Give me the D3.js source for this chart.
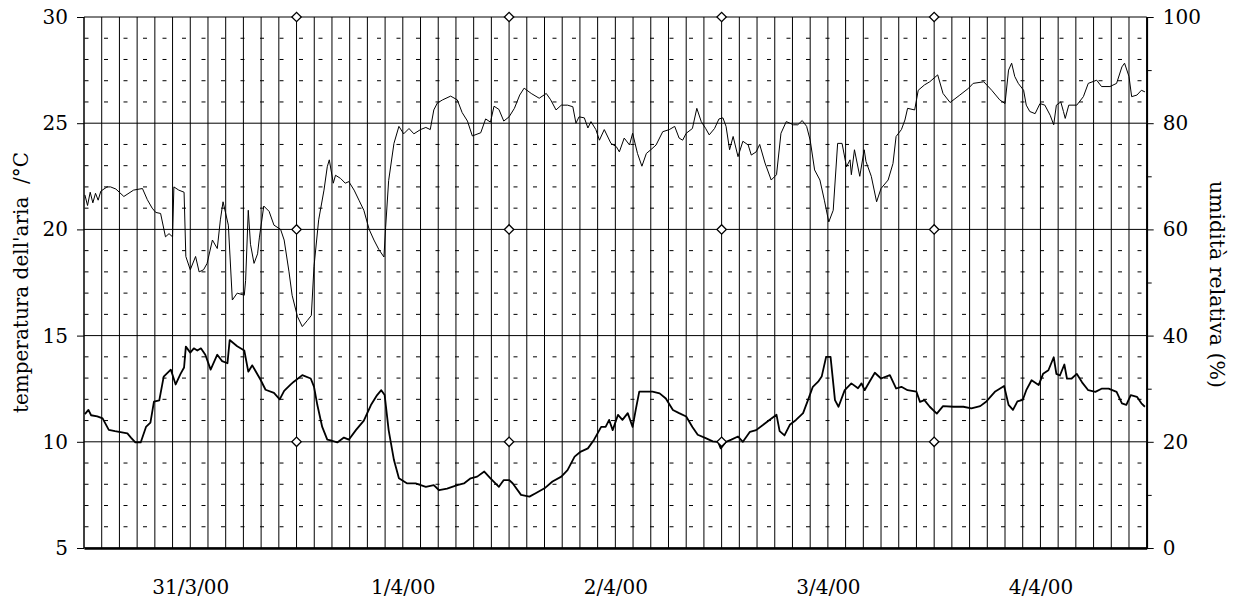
<!DOCTYPE html>
<html><head><meta charset="utf-8">
<script src="https://cdn.jsdelivr.net/npm/d3@7"></script>
<style>
html,body{margin:0;padding:0;background:#fff;}
svg text{font-family:"DejaVu Serif",serif;fill:#000;}
</style></head>
<body><svg id="c" width="1244" height="606"></svg>
<script>
// ---- data ----
const dayLabels = ["31/3/00","1/4/00","2/4/00","3/4/00","4/4/00"];
const tempTicks = [5,10,15,20,25,30];
const humTicks = [0,20,40,60,80,100];
const humMinorTicks = [10,30,50,70,90];
const diamondHours = [24,48,72,96];
const diamondTemps = [10,20,30];
// [hours since 31/3/00 00:00, relative humidity %]
const humidity = [[0.1,66.5],[0.4,64.5],[0.7,67],[1.0,65],[1.3,66.8],[1.6,65.5],[1.9,67.2],[2.6,68.0],[3.0,68.0],[3.6,67.6],[4.5,66.2],[5.6,67.4],[6.6,67.7],[7.15,65.6],[7.7,64.0],[8.1,63.2],[8.65,63.0],[9.2,58.6],[9.6,59.2],[10.0,58.6],[10.15,68.0],[10.7,67.4],[11.3,67.0],[11.5,54.9],[12.0,52.4],[12.6,54.9],[13.0,52.0],[13.5,52.4],[13.9,53.6],[14.5,58.0],[15.05,56.4],[15.4,61.8],[15.7,65.2],[16.3,60.8],[16.75,46.7],[17.3,48.0],[18.1,47.6],[18.25,50.4],[18.55,63.6],[18.8,57.2],[19.2,53.6],[19.6,55.4],[19.8,58.4],[20.3,64.4],[20.9,63.4],[21.45,60.8],[22.2,60.0],[22.6,58.0],[23.15,52.0],[23.5,47.6],[24.1,43.6],[24.65,41.7],[25.2,42.8],[25.67,43.8],[25.97,53.0],[26.5,61.8],[27.1,67.4],[27.47,71.8],[27.7,73.1],[28.15,68.7],[28.4,70.2],[28.97,69.6],[29.5,68.7],[29.9,69.0],[30.5,67.4],[31.05,65.5],[31.6,63.6],[32.2,60.0],[32.74,58.0],[33.3,56.2],[33.87,54.8],[34.06,60.4],[34.4,69.2],[35.0,76.2],[35.56,79.4],[36.1,78.0],[36.7,79.0],[37.25,78.0],[38.0,78.8],[38.6,79.2],[39.1,78.8],[39.5,82.5],[39.9,83.8],[40.5,84.4],[41.4,85.1],[42.15,84.4],[42.7,82.0],[43.3,80.4],[43.85,77.6],[44.8,78.2],[45.35,80.8],[45.9,80.2],[46.3,83.2],[46.85,82.6],[47.4,80.4],[48.0,81.2],[48.6,82.8],[49.2,85.3],[49.7,86.6],[50.5,85.6],[51.4,84.7],[52.2,85.6],[52.7,84.4],[53.3,82.5],[53.9,83.4],[54.6,83.4],[55.2,83.1],[55.55,80.0],[55.9,81.2],[56.5,81.0],[56.9,79.1],[57.25,80.3],[57.8,78.8],[58.2,76.8],[58.75,78.8],[59.5,76.2],[60.1,75.6],[60.45,74.6],[61.0,77.2],[61.6,75.9],[61.95,78.1],[62.5,74.3],[63.0,71.9],[63.5,74.3],[64.0,75.0],[64.6,75.9],[65.35,78.4],[66.1,78.8],[66.7,79.4],[67.2,77.2],[67.6,76.8],[68.0,78.1],[68.7,79.0],[69.2,82.8],[69.7,80.3],[70.2,79.0],[70.6,77.8],[71.2,79.0],[71.7,80.8],[72.15,81.0],[72.5,79.4],[72.9,75.0],[73.3,77.5],[73.85,73.7],[74.4,76.6],[75.0,75.9],[75.35,74.0],[75.9,74.6],[76.3,76.0],[76.9,72.5],[77.6,69.3],[78.2,70.3],[78.7,78.1],[79.3,80.3],[80.1,79.7],[80.6,79.7],[81.1,80.5],[81.6,79.4],[82.0,76.8],[82.5,71.2],[83.1,69.3],[83.6,65.5],[84.1,61.4],[84.6,63.6],[85.1,76.2],[85.6,76.2],[86.1,71.8],[86.5,73.1],[86.65,70.3],[87.0,75.0],[87.6,70.0],[88.1,75.0],[88.3,72.8],[88.9,70.0],[89.5,65.2],[90.0,67.7],[90.8,69.3],[91.35,72.4],[91.7,77.5],[92.3,78.8],[92.7,80.6],[93.0,82.8],[93.8,82.5],[94.2,86.2],[94.9,87.2],[95.5,87.8],[96.4,89.1],[97.0,85.6],[97.8,83.9],[98.9,85.3],[99.9,86.6],[100.4,87.5],[101.6,87.8],[102.5,86.2],[103.4,84.4],[104.0,83.7],[104.4,90.0],[104.75,91.3],[105.1,88.8],[105.5,87.5],[106.1,86.2],[106.4,83.4],[106.8,82.2],[107.4,81.8],[107.95,83.7],[108.5,83.4],[109.1,81.5],[109.5,79.7],[109.8,83.4],[110.3,84.0],[110.6,82.2],[110.8,80.9],[111.2,83.4],[112.1,83.4],[112.85,85.0],[113.4,87.5],[114.35,88.1],[114.9,86.9],[115.85,86.9],[116.6,87.5],[117.2,90.6],[117.5,91.3],[118.0,88.8],[118.3,85.0],[118.9,85.3],[119.4,86.2],[119.8,85.9]];
// [hours since 31/3/00 00:00, air temperature °C]
const temperature = [[0.1,11.3],[0.5,11.5],[0.8,11.25],[1.5,11.2],[2.1,11.1],[2.8,10.56],[3.5,10.5],[4.9,10.4],[5.3,10.2],[5.8,9.97],[6.4,9.97],[7.0,10.7],[7.5,10.9],[7.9,11.89],[8.5,11.95],[9.0,13.07],[9.8,13.4],[10.35,12.7],[10.9,13.2],[11.3,13.5],[11.5,14.48],[12.0,14.2],[12.4,14.4],[12.8,14.3],[13.2,14.4],[13.7,14.1],[14.3,13.4],[15.05,14.1],[15.6,13.8],[16.2,13.7],[16.45,14.79],[17.3,14.5],[18.1,14.3],[18.55,13.3],[19.0,13.6],[19.95,12.91],[20.5,12.45],[21.45,12.3],[22.1,12.0],[22.6,12.4],[23.35,12.7],[23.7,12.83],[24.65,13.14],[25.6,12.98],[25.97,12.6],[26.35,11.73],[26.9,10.7],[27.47,10.1],[28.0,10.05],[28.6,9.97],[29.35,10.2],[29.9,10.1],[30.7,10.55],[31.6,11.0],[32.4,11.73],[33.1,12.2],[33.57,12.43],[33.95,12.2],[34.4,10.55],[35.0,9.14],[35.56,8.28],[36.5,8.04],[37.45,8.04],[38.6,7.88],[39.5,7.96],[40.1,7.72],[41.0,7.8],[42.15,7.96],[42.9,8.04],[43.66,8.28],[44.4,8.36],[45.2,8.6],[45.9,8.28],[46.85,7.88],[47.4,8.2],[48.0,8.2],[48.4,8.05],[49.35,7.5],[50.3,7.42],[51.0,7.58],[52.0,7.81],[52.9,8.13],[53.9,8.36],[54.6,8.67],[55.4,9.3],[56.1,9.54],[56.9,9.69],[57.6,10.1],[58.4,10.7],[58.9,10.7],[59.3,11.03],[59.7,10.55],[60.3,11.27],[60.8,11.03],[61.4,11.35],[61.95,10.7],[62.3,11.5],[62.7,12.36],[63.5,12.36],[64.2,12.36],[65.0,12.28],[65.7,12.04],[66.5,11.5],[67.2,11.35],[68.0,11.19],[68.7,10.7],[69.3,10.33],[70.2,10.17],[71.0,10.02],[71.6,10.0],[71.9,9.69],[72.5,10.0],[73.1,10.1],[73.85,10.25],[74.4,10.0],[75.2,10.47],[75.9,10.55],[76.7,10.8],[77.4,11.03],[78.2,11.27],[78.55,10.5],[79.1,10.3],[79.7,10.8],[80.4,11.03],[81.2,11.35],[81.75,11.96],[82.3,12.59],[82.9,12.83],[83.3,13.07],[83.8,14.0],[84.3,14.0],[84.8,11.96],[85.2,11.65],[85.9,12.43],[86.65,12.75],[87.4,12.52],[87.8,12.75],[88.15,12.43],[88.7,12.83],[89.3,13.25],[90.0,12.98],[91.0,13.14],[91.7,12.51],[92.3,12.59],[93.0,12.43],[94.0,12.36],[94.4,11.88],[94.9,11.96],[95.5,11.65],[96.3,11.33],[97.0,11.68],[98.2,11.65],[99.3,11.65],[100.2,11.57],[101.2,11.68],[101.9,11.9],[102.9,12.37],[103.9,12.63],[104.4,11.74],[104.9,11.5],[105.4,11.9],[106.0,11.97],[106.4,12.43],[107.0,12.9],[107.8,12.67],[108.3,13.2],[108.9,13.37],[109.5,13.98],[109.8,13.2],[110.2,13.12],[110.7,13.64],[111.0,12.97],[111.5,12.97],[112.1,13.2],[112.7,12.8],[113.4,12.43],[114.2,12.35],[114.9,12.5],[115.7,12.5],[116.6,12.35],[117.2,11.81],[117.7,11.74],[118.2,12.2],[118.9,12.12],[119.4,11.81],[119.8,11.65]];

// ---- layout ----
const L=84, R=1146.7, T=17, B=548;
const svg=d3.select("#c");
const x=d3.scaleLinear().domain([0,120]).range([L,R]);
const yT=d3.scaleLinear().domain([5,30]).range([B,T]);
const yH=d3.scaleLinear().domain([0,100]).range([B,T]);

// minor dashed horizontal lines every 1 °C
const minor=d3.range(6,30).filter(v=>v%5!==0);
svg.append("g").selectAll("line").data(minor).join("line")
  .attr("x1",L+0.5).attr("x2",R).attr("y1",d=>yT(d)).attr("y2",d=>yT(d))
  .attr("stroke","#000").attr("stroke-width",1).attr("stroke-dasharray","4,15.5");

// vertical grid every 2 hours
svg.append("g").selectAll("line").data(d3.range(0,121,2)).join("line")
  .attr("x1",d=>x(d)).attr("x2",d=>x(d)).attr("y1",T).attr("y2",B)
  .attr("stroke","#000").attr("stroke-width",d=>d===0?1.5:1);

// major horizontal grid
svg.append("g").selectAll("line").data(tempTicks).join("line")
  .attr("x1",L).attr("x2",R).attr("y1",d=>yT(d)).attr("y2",d=>yT(d))
  .attr("stroke","#000").attr("stroke-width",1);

// axes
const fs="20px";
const ax=svg.append("g").attr("transform",`translate(${L},0)`)
  .call(d3.axisLeft(yT).tickValues(tempTicks).tickSize(7).tickPadding(9).tickFormat(d3.format("d")));
ax.select(".domain").remove();
ax.selectAll("text").style("font-size",fs).style("font-family","DejaVu Serif");
ax.selectAll("line").attr("stroke","#000");

const ar=svg.append("g").attr("transform",`translate(${R},0)`)
  .call(d3.axisRight(yH).tickValues(humTicks).tickSize(7).tickPadding(9).tickSizeOuter(0).tickFormat(d3.format("d")));
ar.select(".domain").attr("stroke-width",1.8);
ar.selectAll("text").style("font-size",fs).style("font-family","DejaVu Serif");
svg.append("g").attr("transform",`translate(${R},0)`)
  .call(d3.axisRight(yH).tickValues(humMinorTicks).tickSize(5).tickSizeOuter(0).tickFormat(""))
  .select(".domain").remove();

const ab=svg.append("g").attr("transform",`translate(0,${B})`)
  .call(d3.axisBottom(x).tickValues(dayLabels.map((d,i)=>i*24+12)).tickSize(0).tickSizeOuter(0).tickPadding(32).tickFormat((d,i)=>dayLabels[i]));
ab.select(".domain").attr("stroke-width",2.6);
ab.selectAll("text").style("font-size",fs).style("font-family","DejaVu Serif");

// series
const lineT=d3.line().x(d=>x(d[0])).y(d=>yT(d[1]));
const lineH=d3.line().x(d=>x(d[0])).y(d=>yH(d[1]));
svg.append("path").datum(humidity).attr("d",lineH).attr("fill","none").attr("stroke","#000").attr("stroke-width",1).attr("stroke-linejoin","round");
svg.append("path").datum(temperature).attr("d",lineT).attr("fill","none").attr("stroke","#000").attr("stroke-width",1.8).attr("stroke-linejoin","round");

// diamond markers
const pts=[];diamondHours.forEach(h=>diamondTemps.forEach(t=>pts.push([h,t])));
svg.append("g").selectAll("path").data(pts).join("path")
  .attr("d",d3.symbol(d3.symbolSquare,44))
  .attr("transform",d=>`translate(${x(d[0])},${yT(d[1])}) rotate(45)`)
  .attr("fill","#fff").attr("stroke","#000").attr("stroke-width",1.3);

// axis titles
svg.append("text").attr("transform",`translate(28,${(T+B)/2}) rotate(-90)`)
  .attr("text-anchor","middle").style("font-size","20px").style("white-space","pre")
  .text("temperatura dell'aria  /°C");
svg.append("text").attr("transform",`translate(1210,${(T+B)/2+2}) rotate(90)`)
  .attr("text-anchor","middle").style("font-size","20.5px")
  .text("umidità relativa (%)");
</script></body></html>
